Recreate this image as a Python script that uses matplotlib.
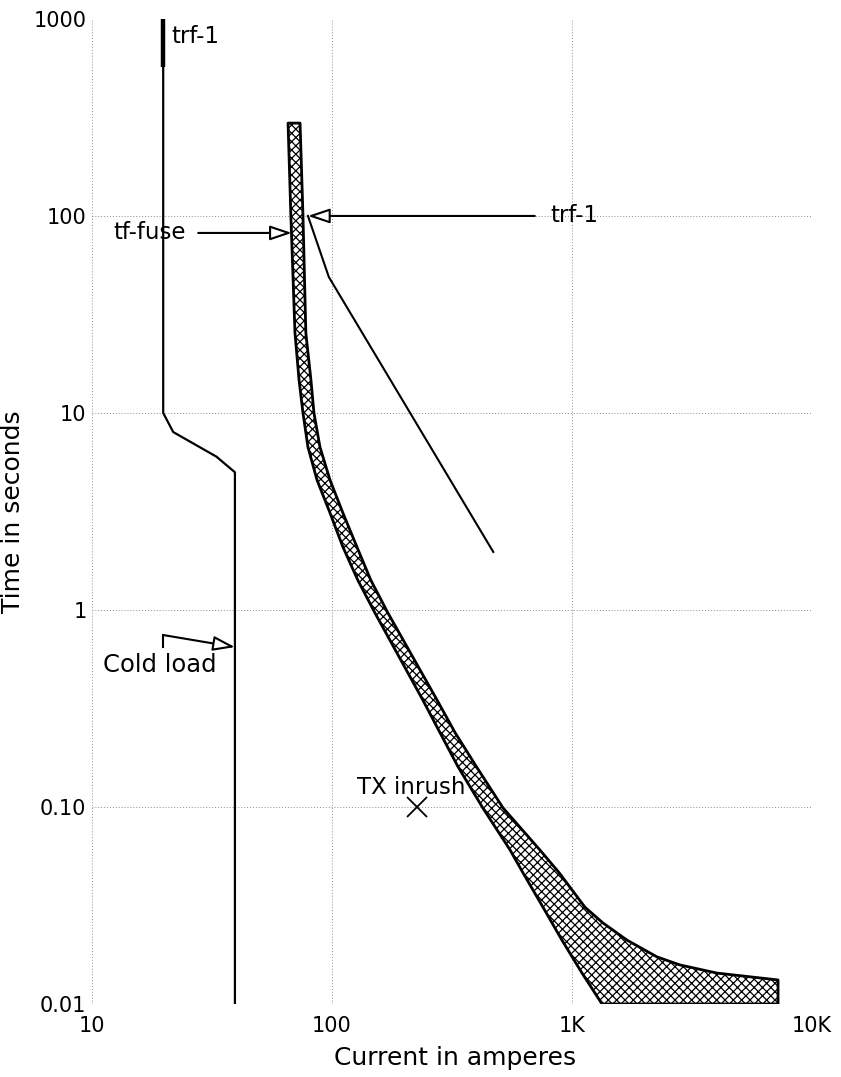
import numpy as np
import matplotlib.pyplot as plt
from matplotlib.ticker import FixedLocator, FixedFormatter

# ── data (current in A, time in s) ─────────────────────────────────────────
# load / trf-1 curve on the left
load_i = [19.8, 19.8, 21.8, 33.0, 39.4, 39.4]
load_t = [570, 10, 8.0, 6.0, 5.0, 0.01]
trf_top_i = [19.8, 19.8]
trf_top_t = [1000, 570]

# tf-fuse band: minimum melt (left edge) and total clear (right edge)
mm_i = [65.6, 67.4, 70.1, 72.9, 75.7, 79.4, 86.6, 98.1, 111, 128, 151,
        239, 282, 335, 425, 552, 625, 757, 908, 1101, 1334]
mm_t = [296, 100, 25.5, 14.7, 10, 6.71, 4.57, 3.11, 2.09, 1.42, 0.966,
        0.349, 0.238, 0.160, 0.0989, 0.0605, 0.0463, 0.0310, 0.0211, 0.01435, 0.01]
tc_i = [73.6, 75.7, 77.8, 81.7, 84.1, 89.1, 98.1, 111, 127, 145, 171,
        274, 326, 400, 516, 735, 885, 1132, 1345, 1694, 2260, 2818, 4018,
        7220, 7220]
tc_t = [296, 100, 25.5, 14.7, 10, 6.71, 4.57, 3.11, 2.09, 1.42, 0.966,
        0.349, 0.238, 0.160, 0.0989, 0.0605, 0.0463, 0.0310, 0.0258, 0.0211,
        0.01734, 0.01578, 0.01435, 0.01324, 0.01]

# trf-1 damage curve
dmg_i = [79.4, 97, 470]
dmg_t = [100, 49, 1.97]

# transformer inrush point
inrush_i = [226]
inrush_t = [0.10]

x_ticks = [10, 100, 1000, 10000]
x_labels = ["10", "100", "1K", "10K"]
y_ticks = [0.01, 0.1, 1, 10, 100, 1000]
y_labels = ["0.01", "0.10", "1", "10", "100", "1000"]

# ── figure ─────────────────────────────────────────────────────────────────
fig = plt.figure(figsize=(8.41, 10.77), dpi=100)
ax = fig.add_axes([0.1094, 0.0678, 0.8561, 0.9146])
ax.set_xscale("log")
ax.set_yscale("log")
ax.set_xlim(10, 10000)
ax.set_ylim(0.01, 1000)

for s in ax.spines.values():
    s.set_visible(False)

ax.xaxis.set_major_locator(FixedLocator(x_ticks))
ax.xaxis.set_major_formatter(FixedFormatter(x_labels))
ax.yaxis.set_major_locator(FixedLocator(y_ticks))
ax.yaxis.set_major_formatter(FixedFormatter(y_labels))
ax.xaxis.set_minor_locator(FixedLocator([]))
ax.yaxis.set_minor_locator(FixedLocator([]))
ax.tick_params(axis="both", length=0, labelsize=15)
ax.tick_params(axis="x", pad=9)
ax.tick_params(axis="y", pad=4)

ax.grid(True, color="0.55", ls=(0, (1, 2)), lw=0.7)
ax.get_ygridlines()[-1].set_visible(False)
ax.get_xgridlines()[-1].set_visible(False)

ax.set_xlabel("Current in amperes", fontsize=18)
ax.set_ylabel("Time in seconds", fontsize=18)
ax.xaxis.set_label_coords(0.504, -0.043)
ax.yaxis.set_label_coords(-0.093, 0.5)

# ── curves ─────────────────────────────────────────────────────────────────
ax.plot(trf_top_i, trf_top_t, color="black", lw=3.2, solid_capstyle="butt")
ax.plot(load_i, load_t, color="black", lw=1.6)
ax.plot(dmg_i, dmg_t, color="black", lw=1.5)

# fuse band, hatched
band_i = mm_i + tc_i[::-1]
band_t = mm_t + tc_t[::-1]
plt.rcParams["hatch.linewidth"] = 0.9
ax.fill(band_i, band_t, facecolor="white", edgecolor="black", lw=2.0,
        hatch="xxxx", joinstyle="round", zorder=3)

ax.plot(inrush_i, inrush_t, marker="x", color="black", ms=15, mew=1.3, ls="none")

# ── labels / arrows ────────────────────────────────────────────────────────
arrow = dict(arrowstyle="-|>,head_length=0.95,head_width=0.32",
             fc="white", ec="black", lw=1.5, mutation_scale=14,
             shrinkA=0, shrinkB=0)

ax.text(21.5, 811, "trf-1", fontsize=16.5, ha="left", va="center")

ax.annotate("", xy=(68, 82), xytext=(27.7, 82), arrowprops=arrow, zorder=4)
ax.text(24.6, 82, "tf-fuse", fontsize=16.5, ha="right", va="center")

ax.annotate("", xy=(79.4, 100), xytext=(700, 100), arrowprops=arrow, zorder=4)
ax.text(809, 100, "trf-1", fontsize=16.5, ha="left", va="center")

ax.plot([19.8, 19.8], [0.648, 0.746], color="black", lw=1.5)
ax.annotate("", xy=(39.4, 0.648), xytext=(19.8, 0.746), arrowprops=arrow, zorder=4)
ax.text(11.1, 0.526, "Cold load", fontsize=17.5, ha="left", va="center")

ax.text(127, 0.126, "TX inrush", fontsize=16.5, ha="left", va="center")

fig.savefig("out.png", dpi=100)
